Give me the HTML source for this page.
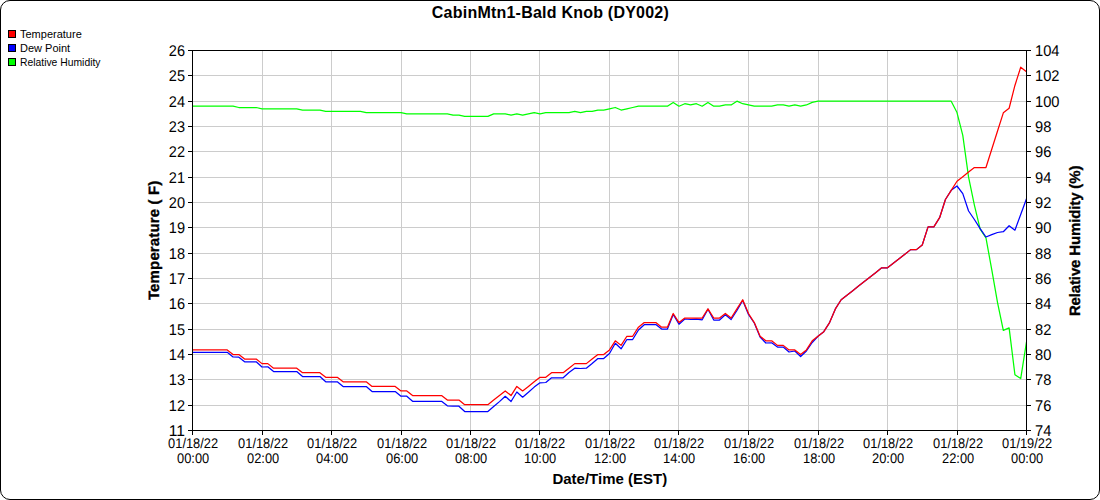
<!DOCTYPE html>
<html><head><meta charset="utf-8"><title>CabinMtn1-Bald Knob (DY002)</title>
<style>
html,body{margin:0;padding:0;background:#fff;}
#wrap{position:relative;width:1100px;height:500px;box-sizing:border-box;border:1px solid #000;border-radius:10px;overflow:hidden;background:#fff;}
svg{position:absolute;left:-1px;top:-1px;}
text{font-family:"Liberation Sans",Arial,sans-serif;fill:#000;text-rendering:geometricPrecision;}
</style></head><body>
<div id="wrap">
<svg width="1100" height="500" viewBox="0 0 1100 500">
<text x="550.3" y="18" text-anchor="middle" font-size="16" font-weight="bold" textLength="237" lengthAdjust="spacing" style="text-rendering:auto">CabinMtn1-Bald Knob (DY002)</text>
<rect x="8.5" y="30.5" width="7" height="7" fill="#ff0000" stroke="#000" stroke-width="1"/>
<text x="20" y="37.6" font-size="11" style="text-rendering:auto">Temperature</text>
<rect x="8.5" y="44.5" width="7" height="7" fill="#0000ff" stroke="#000" stroke-width="1"/>
<text x="20" y="51.6" font-size="11" style="text-rendering:auto">Dew Point</text>
<rect x="8.5" y="58.5" width="7" height="7" fill="#00ff00" stroke="#000" stroke-width="1"/>
<text x="20" y="65.6" font-size="11" style="text-rendering:auto" textLength="80.5" lengthAdjust="spacingAndGlyphs">Relative Humidity</text>
<path d="M262.5 50V430 M331.5 50V430 M401.5 50V430 M470.5 50V430 M539.5 50V430 M609.5 50V430 M678.5 50V430 M748.5 50V430 M818.5 50V430 M887.5 50V430 M957.5 50V430 M192 75.5H1026 M192 101.5H1026 M192 126.5H1026 M192 151.5H1026 M192 177.5H1026 M192 202.5H1026 M192 227.5H1026 M192 253.5H1026 M192 278.5H1026 M192 303.5H1026 M192 329.5H1026 M192 354.5H1026 M192 379.5H1026 M192 405.5H1026" stroke="#cccccc" stroke-width="1" fill="none"/>
<polyline points="192.50,106.23 198.29,106.23 204.08,106.23 209.88,106.23 215.67,106.23 221.46,106.23 227.25,106.23 233.04,106.23 238.83,107.50 244.62,107.50 250.42,107.50 256.21,107.50 262.00,108.77 267.79,108.77 273.58,108.77 279.38,108.77 285.17,108.77 290.96,108.77 296.75,108.77 302.54,110.03 308.33,110.03 314.12,110.03 319.92,110.03 325.71,111.30 331.50,111.30 337.29,111.30 343.08,111.30 348.88,111.30 354.67,111.30 360.46,111.30 366.25,112.57 372.04,112.57 377.83,112.57 383.62,112.57 389.42,112.57 395.21,112.57 401.00,112.57 406.79,113.83 412.58,113.83 418.38,113.83 424.17,113.83 429.96,113.83 435.75,113.83 441.54,113.83 447.33,113.83 453.12,115.10 458.92,115.10 464.71,116.37 470.50,116.37 476.29,116.37 482.08,116.37 487.88,116.37 493.67,113.83 499.46,113.83 505.25,113.83 511.04,115.10 516.83,113.83 522.62,115.10 528.42,113.83 534.21,112.57 540.00,113.83 545.79,112.57 551.58,112.57 557.38,112.57 563.17,112.57 568.96,112.57 574.75,111.30 580.54,112.57 586.33,111.30 592.12,111.30 597.92,110.03 603.71,110.03 609.50,108.77 615.29,107.50 621.08,110.03 626.88,108.77 632.67,107.50 638.46,106.23 644.25,106.23 650.04,106.23 655.83,106.23 661.62,106.23 667.42,106.23 673.21,102.43 679.00,106.23 684.79,103.70 690.58,104.97 696.38,103.70 702.17,106.23 707.96,102.43 713.75,106.23 719.54,106.23 725.33,104.97 731.12,104.97 736.92,101.17 742.71,103.70 748.50,104.97 754.29,106.23 760.08,106.23 765.88,106.23 771.67,106.23 777.46,104.97 783.25,104.97 789.04,106.23 794.83,104.97 800.62,106.23 806.42,104.97 812.21,102.43 818.00,101.17 823.79,101.17 829.58,101.17 835.38,101.17 841.17,101.17 846.96,101.17 852.75,101.17 858.54,101.17 864.33,101.17 870.12,101.17 875.92,101.17 881.71,101.17 887.50,101.17 893.29,101.17 899.08,101.17 904.88,101.17 910.67,101.17 916.46,101.17 922.25,101.17 928.04,101.17 933.83,101.17 939.62,101.17 945.42,101.17 951.21,101.17 957.00,112.57 962.79,135.37 968.58,177.17 974.38,205.03 980.17,229.10 985.96,237.97 991.75,269.63 997.54,302.57 1003.33,330.43 1009.12,327.90 1014.92,374.77 1020.71,378.57 1026.50,341.83" fill="none" stroke="#00ff00" stroke-width="1.25" stroke-linejoin="round" stroke-linecap="butt"/>
<polyline points="192.50,352.30 198.29,352.30 204.08,352.30 209.88,352.30 215.67,352.30 221.46,352.30 227.25,352.30 233.04,357.00 238.83,357.20 244.62,361.80 250.42,361.80 256.21,361.80 262.00,367.00 267.79,366.80 273.58,371.60 279.38,371.60 285.17,371.60 290.96,371.60 296.75,371.60 302.54,376.50 308.33,376.50 314.12,376.50 319.92,376.50 325.71,381.80 331.50,381.80 337.29,381.80 343.08,386.50 348.88,386.50 354.67,386.50 360.46,386.50 366.25,386.50 372.04,391.50 377.83,391.50 383.62,391.50 389.42,391.50 395.21,391.50 401.00,396.20 406.79,396.20 412.58,401.30 418.38,401.30 424.17,401.30 429.96,401.30 435.75,401.30 441.54,401.30 447.33,405.80 453.12,406.20 458.92,406.20 464.71,411.50 470.50,411.50 476.29,411.50 482.08,411.50 487.88,411.50 493.67,406.60 499.46,401.60 505.25,396.30 511.04,401.50 516.83,392.00 522.62,397.20 528.42,392.30 534.21,387.10 540.00,382.80 545.79,382.50 551.58,377.80 557.38,377.80 563.17,377.80 568.96,372.50 574.75,368.20 580.54,368.50 586.33,368.20 592.12,363.50 597.92,358.50 603.71,358.50 609.50,353.50 615.29,343.30 621.08,348.80 626.88,339.50 632.67,339.50 638.46,330.00 644.25,324.70 650.04,324.50 655.83,324.50 661.62,329.00 667.42,329.00 673.21,314.50 679.00,324.20 684.79,319.00 690.58,319.50 696.38,319.20 702.17,319.80 707.96,309.20 713.75,320.00 719.54,320.00 725.33,314.80 731.12,319.50 736.92,310.50 742.71,300.50 748.50,314.50 754.29,323.00 760.08,337.00 765.88,343.00 771.67,342.80 777.46,347.00 783.25,347.00 789.04,352.00 794.83,351.00 800.62,356.50 806.42,351.00 812.21,342.50 818.00,336.26 823.79,331.70 829.58,322.58 835.38,308.90 841.17,299.78 846.96,295.22 852.75,290.66 858.54,286.10 864.33,281.54 870.12,276.98 875.92,272.42 881.71,267.86 887.50,267.86 893.29,263.30 899.08,258.74 904.88,254.18 910.67,249.62 916.46,249.62 922.25,245.06 928.04,226.82 933.83,226.82 939.62,217.70 945.42,199.46 951.21,190.34 957.00,186.00 962.79,193.60 968.58,211.00 974.38,219.50 980.17,228.70 985.96,237.00 991.75,234.70 997.54,232.50 1003.33,231.70 1009.12,225.70 1014.92,230.20 1020.71,214.50 1026.50,198.70" fill="none" stroke="#0000ff" stroke-width="1.25" stroke-linejoin="round" stroke-linecap="butt"/>
<polyline points="192.50,349.94 198.29,349.94 204.08,349.94 209.88,349.94 215.67,349.94 221.46,349.94 227.25,349.94 233.04,354.50 238.83,354.50 244.62,359.06 250.42,359.06 256.21,359.06 262.00,363.62 267.79,363.62 273.58,368.18 279.38,368.18 285.17,368.18 290.96,368.18 296.75,368.18 302.54,372.74 308.33,372.74 314.12,372.74 319.92,372.74 325.71,377.30 331.50,377.30 337.29,377.30 343.08,381.86 348.88,381.86 354.67,381.86 360.46,381.86 366.25,381.86 372.04,386.42 377.83,386.42 383.62,386.42 389.42,386.42 395.21,386.42 401.00,390.98 406.79,390.98 412.58,395.54 418.38,395.54 424.17,395.54 429.96,395.54 435.75,395.54 441.54,395.54 447.33,400.10 453.12,400.10 458.92,400.10 464.71,404.66 470.50,404.66 476.29,404.66 482.08,404.66 487.88,404.66 493.67,400.10 499.46,395.54 505.25,390.98 511.04,395.54 516.83,386.42 522.62,390.98 528.42,386.42 534.21,381.86 540.00,377.30 545.79,377.30 551.58,372.74 557.38,372.74 563.17,372.74 568.96,368.18 574.75,363.62 580.54,363.62 586.33,363.62 592.12,359.06 597.92,354.50 603.71,354.50 609.50,349.94 615.29,340.82 621.08,345.38 626.88,336.26 632.67,336.26 638.46,327.14 644.25,322.58 650.04,322.58 655.83,322.58 661.62,327.14 667.42,327.14 673.21,313.46 679.00,322.58 684.79,318.02 690.58,318.02 696.38,318.02 702.17,318.02 707.96,308.90 713.75,318.02 719.54,318.02 725.33,313.46 731.12,318.02 736.92,308.90 742.71,299.78 748.50,313.46 754.29,322.58 760.08,336.26 765.88,340.82 771.67,340.82 777.46,345.38 783.25,345.38 789.04,349.94 794.83,349.94 800.62,354.50 806.42,349.94 812.21,340.82 818.00,336.26 823.79,331.70 829.58,322.58 835.38,308.90 841.17,299.78 846.96,295.22 852.75,290.66 858.54,286.10 864.33,281.54 870.12,276.98 875.92,272.42 881.71,267.86 887.50,267.86 893.29,263.30 899.08,258.74 904.88,254.18 910.67,249.62 916.46,249.62 922.25,245.06 928.04,226.82 933.83,226.82 939.62,217.70 945.42,199.46 951.21,190.34 957.00,181.22 962.79,176.66 968.58,172.10 974.38,167.54 980.17,167.54 985.96,167.54 991.75,149.30 997.54,131.06 1003.33,112.82 1009.12,108.26 1014.92,85.46 1020.71,67.22 1026.50,71.78" fill="none" stroke="#ff0000" stroke-width="1.25" stroke-linejoin="round" stroke-linecap="butt"/>
<path d="M192.5 50V431 M1026.5 50V431 M188 50.5H1031 M188 430.5H1031 M188 50.5H192 M1027 50.5H1031 M188 75.5H192 M1027 75.5H1031 M188 101.5H192 M1027 101.5H1031 M188 126.5H192 M1027 126.5H1031 M188 151.5H192 M1027 151.5H1031 M188 177.5H192 M1027 177.5H1031 M188 202.5H192 M1027 202.5H1031 M188 227.5H192 M1027 227.5H1031 M188 253.5H192 M1027 253.5H1031 M188 278.5H192 M1027 278.5H1031 M188 303.5H192 M1027 303.5H1031 M188 329.5H192 M1027 329.5H1031 M188 354.5H192 M1027 354.5H1031 M188 379.5H192 M1027 379.5H1031 M188 405.5H192 M1027 405.5H1031 M188 430.5H192 M1027 430.5H1031 M192.5 431V435 M262.5 431V435 M331.5 431V435 M401.5 431V435 M470.5 431V435 M539.5 431V435 M609.5 431V435 M678.5 431V435 M748.5 431V435 M818.5 431V435 M887.5 431V435 M957.5 431V435 M1026.5 431V435" stroke="#000" stroke-width="1" fill="none"/>
<text x="185" y="56" text-anchor="end" font-size="15.5" textLength="16.2" lengthAdjust="spacingAndGlyphs">26</text>
<text x="1035" y="56" font-size="15.5" textLength="24.5" lengthAdjust="spacingAndGlyphs">104</text>
<text x="185" y="81" text-anchor="end" font-size="15.5" textLength="16.2" lengthAdjust="spacingAndGlyphs">25</text>
<text x="1035" y="81" font-size="15.5" textLength="24.5" lengthAdjust="spacingAndGlyphs">102</text>
<text x="185" y="107" text-anchor="end" font-size="15.5" textLength="16.2" lengthAdjust="spacingAndGlyphs">24</text>
<text x="1035" y="107" font-size="15.5" textLength="24.5" lengthAdjust="spacingAndGlyphs">100</text>
<text x="185" y="132" text-anchor="end" font-size="15.5" textLength="16.2" lengthAdjust="spacingAndGlyphs">23</text>
<text x="1035" y="132" font-size="15.5" textLength="16.33" lengthAdjust="spacingAndGlyphs">98</text>
<text x="185" y="157" text-anchor="end" font-size="15.5" textLength="16.2" lengthAdjust="spacingAndGlyphs">22</text>
<text x="1035" y="157" font-size="15.5" textLength="16.33" lengthAdjust="spacingAndGlyphs">96</text>
<text x="185" y="183" text-anchor="end" font-size="15.5" textLength="16.2" lengthAdjust="spacingAndGlyphs">21</text>
<text x="1035" y="183" font-size="15.5" textLength="16.33" lengthAdjust="spacingAndGlyphs">94</text>
<text x="185" y="208" text-anchor="end" font-size="15.5" textLength="16.2" lengthAdjust="spacingAndGlyphs">20</text>
<text x="1035" y="208" font-size="15.5" textLength="16.33" lengthAdjust="spacingAndGlyphs">92</text>
<text x="185" y="233" text-anchor="end" font-size="15.5" textLength="16.2" lengthAdjust="spacingAndGlyphs">19</text>
<text x="1035" y="233" font-size="15.5" textLength="16.33" lengthAdjust="spacingAndGlyphs">90</text>
<text x="185" y="259" text-anchor="end" font-size="15.5" textLength="16.2" lengthAdjust="spacingAndGlyphs">18</text>
<text x="1035" y="259" font-size="15.5" textLength="16.33" lengthAdjust="spacingAndGlyphs">88</text>
<text x="185" y="284" text-anchor="end" font-size="15.5" textLength="16.2" lengthAdjust="spacingAndGlyphs">17</text>
<text x="1035" y="284" font-size="15.5" textLength="16.33" lengthAdjust="spacingAndGlyphs">86</text>
<text x="185" y="309" text-anchor="end" font-size="15.5" textLength="16.2" lengthAdjust="spacingAndGlyphs">16</text>
<text x="1035" y="309" font-size="15.5" textLength="16.33" lengthAdjust="spacingAndGlyphs">84</text>
<text x="185" y="335" text-anchor="end" font-size="15.5" textLength="16.2" lengthAdjust="spacingAndGlyphs">15</text>
<text x="1035" y="335" font-size="15.5" textLength="16.33" lengthAdjust="spacingAndGlyphs">82</text>
<text x="185" y="360" text-anchor="end" font-size="15.5" textLength="16.2" lengthAdjust="spacingAndGlyphs">14</text>
<text x="1035" y="360" font-size="15.5" textLength="16.33" lengthAdjust="spacingAndGlyphs">80</text>
<text x="185" y="385" text-anchor="end" font-size="15.5" textLength="16.2" lengthAdjust="spacingAndGlyphs">13</text>
<text x="1035" y="385" font-size="15.5" textLength="16.33" lengthAdjust="spacingAndGlyphs">78</text>
<text x="185" y="411" text-anchor="end" font-size="15.5" textLength="16.2" lengthAdjust="spacingAndGlyphs">12</text>
<text x="1035" y="411" font-size="15.5" textLength="16.33" lengthAdjust="spacingAndGlyphs">76</text>
<text x="185" y="436" text-anchor="end" font-size="15.5" textLength="16.2" lengthAdjust="spacingAndGlyphs">11</text>
<text x="1035" y="436" font-size="15.5" textLength="16.33" lengthAdjust="spacingAndGlyphs">74</text>
<text x="193.1" y="448" text-anchor="middle" font-size="14" textLength="50" lengthAdjust="spacingAndGlyphs">01/18/22</text>
<text x="193.1" y="463" text-anchor="middle" font-size="14" textLength="32.2" lengthAdjust="spacingAndGlyphs">00:00</text>
<text x="263.1" y="448" text-anchor="middle" font-size="14" textLength="50" lengthAdjust="spacingAndGlyphs">01/18/22</text>
<text x="263.1" y="463" text-anchor="middle" font-size="14" textLength="32.2" lengthAdjust="spacingAndGlyphs">02:00</text>
<text x="332.1" y="448" text-anchor="middle" font-size="14" textLength="50" lengthAdjust="spacingAndGlyphs">01/18/22</text>
<text x="332.1" y="463" text-anchor="middle" font-size="14" textLength="32.2" lengthAdjust="spacingAndGlyphs">04:00</text>
<text x="402.1" y="448" text-anchor="middle" font-size="14" textLength="50" lengthAdjust="spacingAndGlyphs">01/18/22</text>
<text x="402.1" y="463" text-anchor="middle" font-size="14" textLength="32.2" lengthAdjust="spacingAndGlyphs">06:00</text>
<text x="471.1" y="448" text-anchor="middle" font-size="14" textLength="50" lengthAdjust="spacingAndGlyphs">01/18/22</text>
<text x="471.1" y="463" text-anchor="middle" font-size="14" textLength="32.2" lengthAdjust="spacingAndGlyphs">08:00</text>
<text x="540.1" y="448" text-anchor="middle" font-size="14" textLength="50" lengthAdjust="spacingAndGlyphs">01/18/22</text>
<text x="540.1" y="463" text-anchor="middle" font-size="14" textLength="32.2" lengthAdjust="spacingAndGlyphs">10:00</text>
<text x="610.1" y="448" text-anchor="middle" font-size="14" textLength="50" lengthAdjust="spacingAndGlyphs">01/18/22</text>
<text x="610.1" y="463" text-anchor="middle" font-size="14" textLength="32.2" lengthAdjust="spacingAndGlyphs">12:00</text>
<text x="679.1" y="448" text-anchor="middle" font-size="14" textLength="50" lengthAdjust="spacingAndGlyphs">01/18/22</text>
<text x="679.1" y="463" text-anchor="middle" font-size="14" textLength="32.2" lengthAdjust="spacingAndGlyphs">14:00</text>
<text x="749.1" y="448" text-anchor="middle" font-size="14" textLength="50" lengthAdjust="spacingAndGlyphs">01/18/22</text>
<text x="749.1" y="463" text-anchor="middle" font-size="14" textLength="32.2" lengthAdjust="spacingAndGlyphs">16:00</text>
<text x="819.1" y="448" text-anchor="middle" font-size="14" textLength="50" lengthAdjust="spacingAndGlyphs">01/18/22</text>
<text x="819.1" y="463" text-anchor="middle" font-size="14" textLength="32.2" lengthAdjust="spacingAndGlyphs">18:00</text>
<text x="888.1" y="448" text-anchor="middle" font-size="14" textLength="50" lengthAdjust="spacingAndGlyphs">01/18/22</text>
<text x="888.1" y="463" text-anchor="middle" font-size="14" textLength="32.2" lengthAdjust="spacingAndGlyphs">20:00</text>
<text x="958.1" y="448" text-anchor="middle" font-size="14" textLength="50" lengthAdjust="spacingAndGlyphs">01/18/22</text>
<text x="958.1" y="463" text-anchor="middle" font-size="14" textLength="32.2" lengthAdjust="spacingAndGlyphs">22:00</text>
<text x="1027.1" y="448" text-anchor="middle" font-size="14" textLength="50" lengthAdjust="spacingAndGlyphs">01/19/22</text>
<text x="1027.1" y="463" text-anchor="middle" font-size="14" textLength="32.2" lengthAdjust="spacingAndGlyphs">00:00</text>
<text x="609.8" y="483.7" text-anchor="middle" font-size="15" font-weight="bold" style="text-rendering:auto">Date/Time (EST)</text>
<text transform="translate(159,240.4) rotate(-90)" text-anchor="middle" font-size="15" font-weight="bold" textLength="119.4" lengthAdjust="spacing" stroke="#000" stroke-width="0.3">Temperature ( F)</text>
<text transform="translate(1079.5,240.85) rotate(-90)" text-anchor="middle" font-size="15" font-weight="bold" textLength="150.5" lengthAdjust="spacing" stroke="#000" stroke-width="0.3">Relative Humidity (%)</text>
</svg></div></body></html>
